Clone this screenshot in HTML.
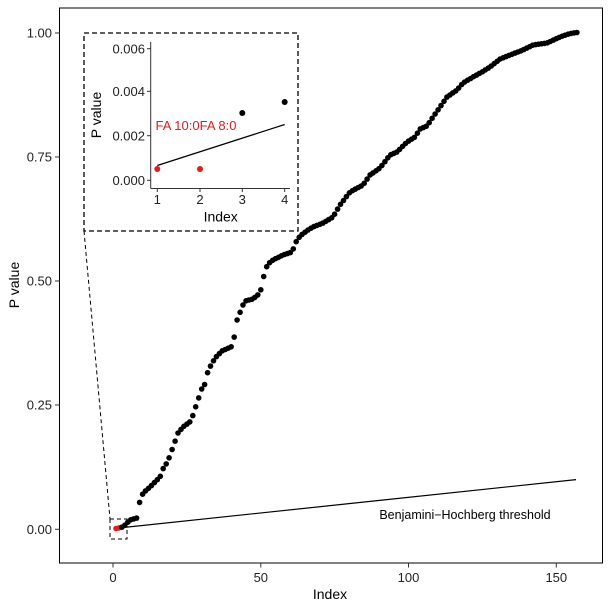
<!DOCTYPE html>
<html><head><meta charset="utf-8"><style>
html,body{margin:0;padding:0;background:#fff}
svg{display:block;font-family:"Liberation Sans",Arial,sans-serif}
</style></head><body>
<svg id="s" width="609" height="609" viewBox="0 0 609 609" xmlns="http://www.w3.org/2000/svg">
<rect width="609" height="609" fill="#fff"/>
<rect x="59.5" y="8" width="543" height="555" fill="none" stroke="#000" stroke-width="1"/>
<g stroke="#333" stroke-width="1">
<line x1="55" y1="33" x2="59.5" y2="33"/><line x1="55" y1="157" x2="59.5" y2="157"/>
<line x1="55" y1="281" x2="59.5" y2="281"/><line x1="55" y1="405" x2="59.5" y2="405"/>
<line x1="55" y1="529.3" x2="59.5" y2="529.3"/>
<line x1="113" y1="563" x2="113" y2="567.5"/><line x1="260.8" y1="563" x2="260.8" y2="567.5"/>
<line x1="408.5" y1="563" x2="408.5" y2="567.5"/><line x1="556.3" y1="563" x2="556.3" y2="567.5"/>
</g>
<g font-size="13" fill="#222" text-anchor="end">
<text x="52" y="37.5">1.00</text><text x="52" y="161.5">0.75</text><text x="52" y="285.5">0.50</text>
<text x="52" y="409.5">0.25</text><text x="52" y="533.8">0.00</text>
</g>
<g font-size="13" fill="#222" text-anchor="middle">
<text x="113" y="582">0</text><text x="260.8" y="582">50</text><text x="408.5" y="582">100</text><text x="556.3" y="582">150</text>
</g>
<text x="330" y="599" font-size="14" text-anchor="middle">Index</text>
<text transform="translate(19,285) rotate(-90)" font-size="14" text-anchor="middle">P value</text>
<line x1="116" y1="528.3" x2="576" y2="479.6" stroke="#000" stroke-width="1.2"/>
<text x="465" y="519" font-size="12.5" text-anchor="middle">Benjamini−Hochberg threshold</text>
<g id="pts"></g>
<rect x="110" y="519" width="17" height="20" fill="none" stroke="#000" stroke-dasharray="4,3"/>
<line x1="84" y1="231" x2="110" y2="519" stroke="#000" stroke-dasharray="4,3"/>
<rect x="84" y="33" width="214" height="198" fill="#fff" stroke="#000" stroke-width="1.3" stroke-dasharray="5,3"/>
<g stroke="#333" stroke-width="1">
<line x1="150.7" y1="42" x2="150.7" y2="188.5"/><line x1="150.7" y1="188.5" x2="290" y2="188.5"/>
<line x1="147" y1="48.7" x2="150.7" y2="48.7"/><line x1="147" y1="91.3" x2="150.7" y2="91.3"/>
<line x1="147" y1="135.7" x2="150.7" y2="135.7"/><line x1="147" y1="180.3" x2="150.7" y2="180.3"/>
<line x1="157.3" y1="188.5" x2="157.3" y2="192"/><line x1="200" y1="188.5" x2="200" y2="192"/>
<line x1="242.3" y1="188.5" x2="242.3" y2="192"/><line x1="284.7" y1="188.5" x2="284.7" y2="192"/>
</g>
<g font-size="13" fill="#222" text-anchor="end">
<text x="145" y="53.3">0.006</text><text x="145" y="96">0.004</text><text x="145" y="140.3">0.002</text><text x="145" y="185">0.000</text>
</g>
<g font-size="13" fill="#222" text-anchor="middle">
<text x="157.3" y="204">1</text><text x="200" y="204">2</text><text x="242.3" y="204">3</text><text x="284.7" y="204">4</text>
</g>
<text x="220.7" y="221.5" font-size="14" text-anchor="middle">Index</text>
<text transform="translate(101,115) rotate(-90)" font-size="14" text-anchor="middle">P value</text>
<line x1="157.3" y1="165.5" x2="284.7" y2="124.5" stroke="#000" stroke-width="1.2"/>
<circle cx="157.3" cy="169" r="3" fill="#e41a1c"/><circle cx="200" cy="169" r="3" fill="#e41a1c"/>
<circle cx="242.3" cy="113" r="3" fill="#000"/><circle cx="284.7" cy="102" r="3" fill="#000"/>
<text x="155.5" y="130" font-size="13" fill="#e41a1c">FA 10:0FA 8:0</text>
</svg>
<script>
var A=[[116,528.5],[123,527],[130,520],[137,518],[139,504],[143,493],[150,487],[160,477],[163,469],[168,461],[173,447],[178,433],[183,427],[191,421],[195,409],[198,400],[202,388],[205,384],[207,374],[210,367],[215,358],[222,351],[233,346],[236,323],[239,315],[243,305],[245,301],[253,299],[260,293],[263,280],[265,270],[268,264],[273,260],[283,255],[292,252],[296,242],[300,236],[308,230],[313,227],[323,223],[333,217],[340,205],[350,192],[363,185],[370,175],[380,168],[390,155],[397,152],[407,142],[415,137],[420,129],[427,126],[433,117],[440,107],[447,97],[457,90],[463,83],[473,77],[482,72],[490,67],[500,59],[510,55],[523,50],[533,45],[547,43],[560,37],[570,33.5],[577,32.5]];
var g=document.getElementById('pts'),h='';
for(var i=1;i<=157;i++){var x=113+2.955*i;var y;
if(x<=A[0][0])y=A[0][1];else if(x>=A[A.length-1][0])y=A[A.length-1][1];else{for(var k=0;k<A.length-1;k++){if(x>=A[k][0]&&x<=A[k+1][0]){var t=(x-A[k][0])/((A[k+1][0]-A[k][0])||1);y=A[k][1]+t*(A[k+1][1]-A[k][1]);break;}}}
var c=i<=2?'#e41a1c':'#000';h+='<circle cx="'+x.toFixed(1)+'" cy="'+y.toFixed(1)+'" r="2.8" fill="'+c+'"/>';}
g.innerHTML=h;
</script>
</body></html>
